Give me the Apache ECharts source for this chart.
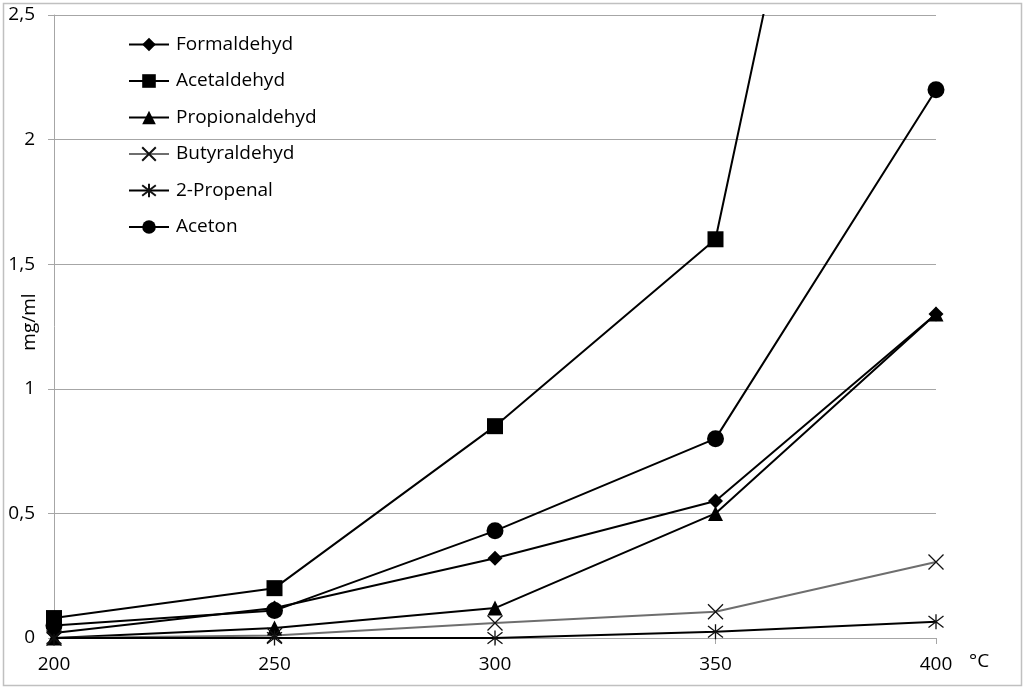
<!DOCTYPE html>
<html>
<head>
<meta charset="utf-8">
<script src="https://cdn.jsdelivr.net/npm/echarts@6/dist/echarts.min.js"></script>
<style>
html,body{margin:0;padding:0;background:#fff;}
#chart{width:1024px;height:687px;}
</style>
</head>
<body>
<div id="chart"></div>
<script>
const categories = ['200', '250', '300', '350', '400'];
const formaldehyd = [0.02, 0.12, 0.32, 0.55, 1.30];
const acetaldehyd = [0.08, 0.20, 0.85, 1.60, 5.75];
const propionaldehyd = [0.00, 0.04, 0.12, 0.50, 1.30];
const butyraldehyd = [0.00, 0.01, 0.06, 0.105, 0.305];
const propenal = [0.00, 0.00, 0.00, 0.025, 0.065];
const aceton = [0.05, 0.11, 0.43, 0.80, 2.20];
const yTicks = [0, 0.5, 1, 1.5, 2, 2.5];

const FONT = '"Open Sans", "Noto Sans", sans-serif';
const X_PATH = 'path://M0 0 L10 10 M10 0 L0 10';
const AST_PATH = 'path://M0 0 L10 10 M10 0 L0 10 M5 -1.5 L5 11.5';

function mk(name, data, symbol, size, lineColor, extra) {
  return Object.assign({
    name: name,
    type: 'line',
    data: data,
    symbol: symbol,
    symbolSize: size,
    showAllSymbol: true,
    clip: true,
    lineStyle: {color: lineColor, width: 2},
    itemStyle: {color: '#000', borderColor: '#000', borderWidth: 0},
    emphasis: {disabled: true},
    animation: false
  }, extra || {});
}

const chart = echarts.init(document.getElementById('chart'), null, {renderer: 'canvas'});
chart.setOption({
  backgroundColor: '#fff',
  animation: false,
  grid: {left: 54, right: 88, top: 15, bottom: 49, containLabel: false, outerBoundsMode: 'none'},
  legend: {
    orient: 'vertical',
    left: 123,
    top: 30,
    itemWidth: 40,
    itemHeight: 17,
    itemGap: 17.5,
    textStyle: {fontFamily: FONT, fontSize: 19, color: '#000', lineHeight: 19, padding: [0, 0, 0, 2]},
    data: ['Formaldehyd', 'Acetaldehyd', 'Propionaldehyd', 'Butyraldehyd', '2-Propenal', 'Aceton']
  },
  xAxis: {
    type: 'category',
    data: categories,
    boundaryGap: false,
    axisLine: {show: true, lineStyle: {color: '#a6a6a6', width: 1}},
    axisTick: {show: true, length: 6, lineStyle: {color: '#a6a6a6'}},
    axisLabel: {fontFamily: FONT, fontSize: 19, color: '#000', margin: 17},
    splitLine: {show: false}
  },
  yAxis: {
    type: 'value',
    min: 0,
    max: 2.5,
    interval: 0.5,
    axisLine: {show: true, lineStyle: {color: '#a6a6a6', width: 1}},
    axisTick: {show: true, length: 6, lineStyle: {color: '#a6a6a6'}},
    axisLabel: {
      fontFamily: FONT, fontSize: 19, color: '#000', margin: 19,
      formatter: function (v) {
        const t = yTicks.find(function (k) { return Math.abs(k - v) < 1e-9; });
        return String(t !== undefined ? t : v).replace('.', ',');
      }
    },
    splitLine: {show: true, lineStyle: {color: '#a6a6a6', width: 1}}
  },
  graphic: [
    {type: 'rect', left: 1, top: 1, shape: {width: 1018, height: 682}, style: {fill: 'none', stroke: '#c0c0c0', lineWidth: 1.5}, silent: true, z: -1},
    {type: 'text', left: 969, top: 652, style: {text: '°C', fontFamily: FONT, fontSize: 19, fill: '#000'}},
    {type: 'text', x: 30, y: 322, rotation: Math.PI / 2, style: {text: 'mg/ml', fontFamily: FONT, fontSize: 19, fill: '#000', align: 'center', verticalAlign: 'middle'}}
  ],
  series: [
    mk('Formaldehyd', formaldehyd, 'diamond', 15, '#000'),
    mk('Acetaldehyd', acetaldehyd, 'rect', 16, '#000'),
    mk('Propionaldehyd', propionaldehyd, 'triangle', 15, '#000'),
    mk('Butyraldehyd', butyraldehyd, X_PATH, 15, '#6e6e6e', {itemStyle: {color: 'none', borderColor: '#111', borderWidth: 1.3}}),
    mk('2-Propenal', propenal, AST_PATH, 15, '#000', {itemStyle: {color: 'none', borderColor: '#111', borderWidth: 1.3}}),
    mk('Aceton', aceton, 'circle', 17, '#000')
  ]
});
</script>
</body>
</html>
